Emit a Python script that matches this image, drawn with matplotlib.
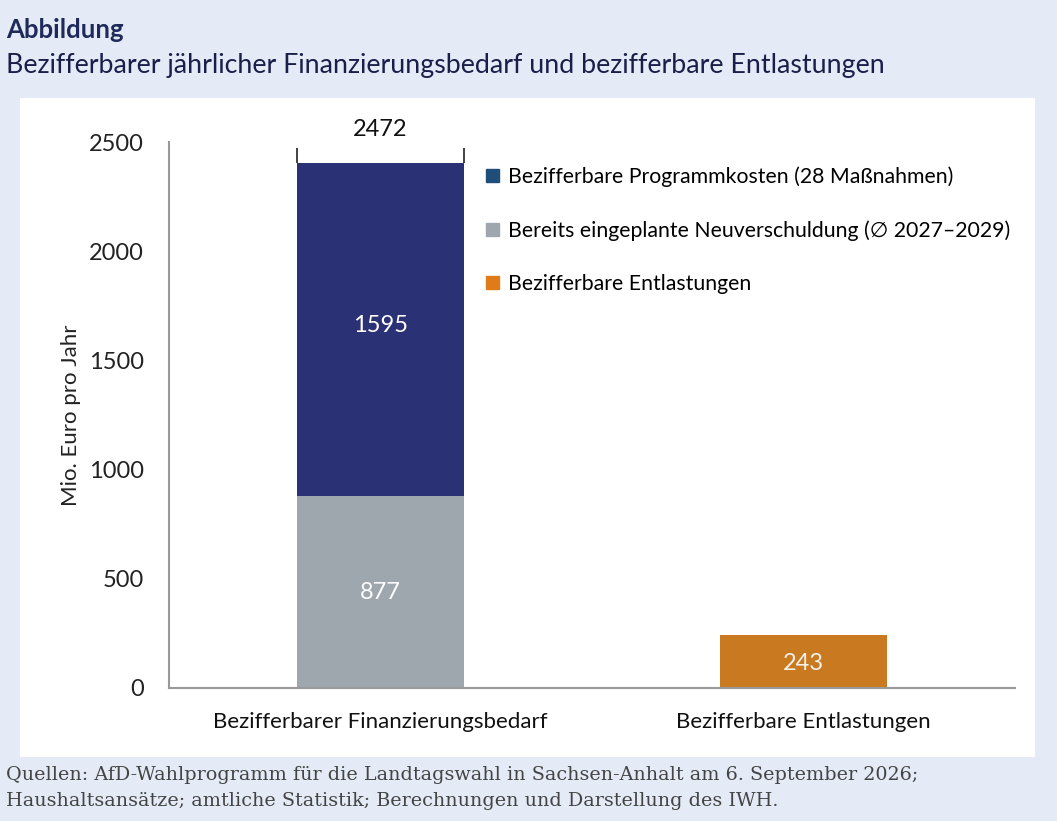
import matplotlib.pyplot as plt
from matplotlib.patches import Rectangle, Patch

# data
categories = ["Bezifferbarer Finanzierungsbedarf", "Bezifferbare Entlastungen"]
neuverschuldung = [877, 0]
programmkosten = [1595, 0]
programmkosten_drawn = [1528, 0]   # navy fill as drawn in the picture
entlastungen = [0, 243]
total = 2472
yticks = [0, 500, 1000, 1500, 2000, 2500]

legend_labels = ["Bezifferbare Programmkosten (28 Maßnahmen)",
                 "Bereits eingeplante Neuverschuldung (\u2205 2027\u20132029)",
                 "Bezifferbare Entlastungen"]

navy = "#2b3175"
grey = "#9ea6ae"
orange = "#c97a20"

plt.rcParams['font.family'] = ['Lato', 'DejaVu Sans']

fig = plt.figure(figsize=(10.57, 8.21), dpi=100)
fig.patch.set_facecolor("#e4ebf6")

# white panel
fig.patches.append(Rectangle((20/1057, 1-757/821), 1015/1057, 659/821,
                             transform=fig.transFigure, facecolor="white",
                             edgecolor="none", zorder=-10))

ax = fig.add_axes([169/1057, 1-688/821, 846/1057, 546/821])
ax.set_facecolor("none")

x = [0, 1]
w = 0.397
ax.bar(x, neuverschuldung, width=w, color=grey, zorder=2)
ax.bar(x, programmkosten_drawn, width=w, bottom=neuverschuldung, color=navy, zorder=2)
ax.bar(x, entlastungen, width=w, color=orange, zorder=2)

# bracket up to the total
top_drawn = neuverschuldung[0] + programmkosten_drawn[0]
ax.vlines([x[0] - w/2, x[0] + w/2], top_drawn, total, color="#222222", lw=1.2, zorder=3)
ax.text(x[0], total + 35, str(total), ha="center", va="bottom", fontsize=17, color="#111111")

ax.text(x[0], neuverschuldung[0] + 785, str(programmkosten[0]), ha="center", va="center",
        fontsize=17, color="white")
ax.text(x[0], 435, str(neuverschuldung[0]), ha="center", va="center", fontsize=17, color="white")
ax.text(x[1], 114, str(entlastungen[1]), ha="center", va="center", fontsize=17, color="#f4f0e6")

ax.set_xlim(-0.5, 1.5)
ax.set_ylim(0, 2500)
ax.set_yticks(yticks)
ax.set_yticklabels([str(t) for t in yticks], fontsize=17, color="#222222")
ax.set_xticks(x)
ax.set_xticklabels(categories, fontsize=16, color="#111111")
ax.tick_params(axis="both", length=0)
ax.tick_params(axis="y", pad=18)
ax.tick_params(axis="x", pad=17)
for s in ["top", "right"]:
    ax.spines[s].set_visible(False)
for s in ["left", "bottom"]:
    ax.spines[s].set_color("#999999")
    ax.spines[s].set_linewidth(1.5)
ax.set_ylabel("Mio. Euro pro Jahr", fontsize=16, color="#222222", labelpad=6)

handles = [Patch(color="#1f4e79"), Patch(color="#a0a6ad"), Patch(color="#e07b1a")]
ax.legend(handles, legend_labels, loc="upper left", bbox_to_anchor=(0.352, 0.99),
          frameon=False, fontsize=15.3, handlelength=0.6, handleheight=0.6,
          handletextpad=0.45, labelspacing=1.56)

fig.text(6/1057, 1-30/821, "Abbildung", fontsize=18.5, fontweight="bold",
         color="#1f2a5a", va="center")
fig.text(6/1057, 1-66/821, "Bezifferbarer jährlicher Finanzierungsbedarf und bezifferbare Entlastungen",
         fontsize=19.3, color="#1a1f4a", va="center")
fig.text(6/1057, 1-775/821, "Quellen: AfD-Wahlprogramm für die Landtagswahl in Sachsen-Anhalt am 6. September 2026;",
         fontsize=13.8, color="#444444", va="center", family=["DejaVu Serif"])
fig.text(6/1057, 1-801/821, "Haushaltsansätze; amtliche Statistik; Berechnungen und Darstellung des IWH.",
         fontsize=13.8, color="#444444", va="center", family=["DejaVu Serif"])

fig.savefig("out.png", dpi=100, facecolor=fig.get_facecolor())
